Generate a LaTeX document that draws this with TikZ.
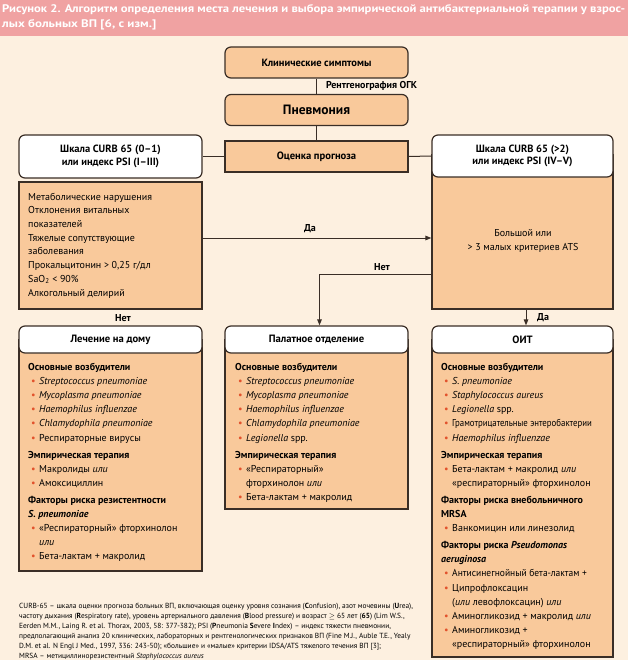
\documentclass[tikz,border=0pt]{standalone}
\usepackage{fontspec}
\setmainfont{PT Sans}
\usetikzlibrary{arrows.meta}
\definecolor{bg}{HTML}{FDF0E0}
\definecolor{band}{HTML}{F0A2A2}
\definecolor{orng}{HTML}{F9C99B}
\definecolor{bord}{HTML}{3A2E26}
\definecolor{bulc}{HTML}{E2522C}
\newcommand{\bul}{\hspace*{3pt}\makebox[8pt][l]{\textcolor{bulc}{\textbullet}}}
\newcommand{\cont}{\hspace*{11pt}}
\begin{document}
\begin{tikzpicture}[x=1pt,y=-1pt,
  obox/.style={draw=bord,line width=1.2pt,fill=orng,inner sep=0pt},
  rbox/.style={obox,rounded corners=6pt},
  wbox/.style={draw=bord,line width=1.2pt,fill=white,rounded corners=6pt,inner sep=0pt},
  conn/.style={draw=bord,line width=1pt},
  arr/.style={conn,-{Triangle[length=6pt,width=4.5pt]}},
  hfont/.style={font=\bfseries\fontsize{10.6}{12.5}\selectfont},
  lbl/.style={font=\bfseries\fontsize{10}{12}\selectfont,inner sep=0pt},
  body/.style={anchor=north west,inner sep=0pt,align=left,font=\fontsize{10}{14.1}\selectfont}
]
\useasboundingbox (0,0) rectangle (628,660);
\fill[bg] (0,0) rectangle (628,660);
\fill[band] (0,0) rectangle (628,36);
\node[anchor=base west,inner sep=0pt,text=white,font=\bfseries\fontsize{11}{14}\selectfont] (title1) at (2,13)
  {\resizebox{623pt}{\height}{Рисунок 2. Алгоритм определения места лечения и выбора эмпирической антибактериальной терапии у взрос-}};
\node[anchor=base west,inner sep=0pt,text=white,font=\bfseries\fontsize{11}{14}\selectfont] (title2) at (2,28)
  {\resizebox{154pt}{\height}{лых больных ВП [6, с изм.]}};

% top chain
\node[rbox,minimum width=183pt,minimum height=31pt,font=\bfseries\fontsize{10.5}{12}\selectfont] (klin) at (316.5,62.5) {Клинические симптомы};
\node[rbox,minimum width=183pt,minimum height=31pt,font=\bfseries\fontsize{13.5}{15}\selectfont] (pnev) at (316.5,110) {Пневмония};
\node[obox,minimum width=183pt,minimum height=31pt,hfont] (ocen) at (316.5,156.5) {Оценка прогноза};

% left column top
\node[wbox,minimum width=183pt,minimum height=43pt,align=center,font=\bfseries\fontsize{10.5}{12.5}\selectfont] (lw) at (110.5,156.5) {Шкала CURB 65 (0–1)\\или индекс PSI (I–III)};
\node[obox,minimum width=183pt,minimum height=127pt] (lo) at (110.5,245.5) {};
\node[body,font=\fontsize{10}{13.7}\selectfont] (lot) at (28,190.4) {\strut Метаболические нарушения\\Отклонения витальных\\показателей\\Тяжелые сопутствующие\\заболевания\\Прокальцитонин > 0,25 г/дл\\SaO\textsubscript{2} < 90\%\\Алкогольный делирий};

% right column top
\node[obox,minimum width=181pt,minimum height=154pt] (ro) at (522.5,232) {};
\node[inner sep=0pt,align=center,font=\fontsize{10}{14}\selectfont] (rot) at (523,241) {Большой или\\> 3 малых критериев ATS};
\node[wbox,minimum width=181pt,minimum height=42pt,align=center,font=\bfseries\fontsize{10.5}{12.5}\selectfont] (rw) at (522.5,156) {Шкала CURB 65 (>2)\\или индекс PSI (IV–V)};

% bottom boxes
\node[obox,minimum width=183pt,minimum height=231pt] (homeb) at (110.5,455.5) {};
\node[wbox,minimum width=183pt,minimum height=27pt,hfont] (homeh) at (110.5,339.5) {Лечение на дому};
\node[obox,minimum width=183pt,minimum height=169pt] (palb) at (316.5,424.5) {};
\node[wbox,minimum width=183pt,minimum height=27pt,hfont] (palh) at (316.5,339.5) {Палатное отделение};
\node[obox,minimum width=181pt,minimum height=317pt] (oitb) at (522.5,498.5) {};
\node[wbox,minimum width=181pt,minimum height=27pt,hfont] (oith) at (522.5,339.5) {ОИТ};

\node[body] (homet) at (28,360.5) {\strut\textbf{Основные возбудители}\\
\bul\textit{Streptococcus pneumoniae}\\
\bul\textit{Mycoplasma pneumoniae}\\
\bul\textit{Haemophilus influenzae}\\
\bul\textit{Chlamydophila pneumoniae}\\
\bul Респираторные вирусы\\[3pt]
\textbf{Эмпирическая терапия}\\
\bul Макролиды \textit{или}\\
\bul Амоксициллин\\[3pt]
\textbf{Факторы риска резистентности}\\
\textbf{\textit{S. pneumoniae}}\\
\bul «Респираторный» фторхинолон\\
\cont\textit{или}\\
\bul Бета-лактам + макролид};

\node[body] (palt) at (235,360.5) {\strut\textbf{Основные возбудители}\\
\bul\textit{Streptococcus pneumoniae}\\
\bul\textit{Mycoplasma pneumoniae}\\
\bul\textit{Haemophilus influenzae}\\
\bul\textit{Chlamydophila pneumoniae}\\
\bul\textit{Legionella} spp.\\[3pt]
\textbf{Эмпирическая терапия}\\
\bul «Респираторный»\\
\cont фторхинолон \textit{или}\\
\bul Бета-лактам + макролид};

\node[body] (oitt) at (441,360.5) {\strut\textbf{Основные возбудители}\\
\bul\textit{S. pneumoniae}\\
\bul\textit{Staphylococcus aureus}\\
\bul\textit{Legionella} spp.\\
\bul\scalebox{0.88}[1]{Грамотрицательные энтеробактерии}\\
\bul\textit{Haemophilus influenzae}\\[3pt]
\textbf{Эмпирическая терапия}\\
\bul Бета-лактам + макролид \textit{или}\\
\cont «респираторный» фторхинолон\\[3pt]
\textbf{Факторы риска внебольничного}\\
\textbf{MRSA}\\
\bul Ванкомицин или линезолид\\[3pt]
\textbf{Факторы риска \textit{Pseudomonas}}\\
\textbf{\textit{aeruginosa}}\\
\bul\scalebox{0.95}[1]{Антисинегнойный бета-лактам +}\\
\bul Ципрофлоксацин\\
\cont(\textit{или} левофлоксацин) \textit{или}\\
\bul Аминогликозид + макролид \textit{или}\\
\bul Аминогликозид +\\
\cont «респираторный» фторхинолон};

% connectors
\draw[conn] (klin.south) -- (pnev.north) node[pos=0.5,anchor=west,lbl,xshift=9pt] (rgk) {Рентгенография ОГК};
\draw[conn] (pnev.south) -- (ocen.north);
\draw[conn] (ocen.west) -- (lw.east);
\draw[conn] (ocen.east) -- (rw.west);
\coordinate (yda) at (0,238);
\coordinate (ynet) at (0,274);
\draw[arr] (lo.east |- yda) -- (ro.west |- yda);
\node[lbl] (da1) at (310,229) {Да};
\draw[arr] (ro.west |- ynet) -| ([xshift=3pt]palh.north);
\node[lbl] (net1) at (382,267) {Нет};
\draw[arr] ([xshift=3.5pt]ro.south) -- ([xshift=3.5pt]oith.north);
\node[lbl,anchor=west] (da2) at (537,318) {Да};
\node[lbl] (net2) at (123,318) {Нет};

% footnote
\node[body,font=\fontsize{7.4}{10}\selectfont] (foot) at (19,601.5) {\strut CURB-65 – шкала оценки прогноза больных ВП, включающая оценку уровня сознания (\textbf{C}onfusion), азот мочевины (\textbf{U}rea),\\
частоту дыхания (\textbf{R}espiratory rate), уровень артериального давления (\textbf{B}lood pressure) и возраст $\geq$ 65 лет (\textbf{65}) (Lim W.S.,\\
Eerden M.M., Laing R. et al. Thorax, 2003, 58: 377-382); PSI (\textbf{P}neumonia \textbf{S}evere \textbf{I}ndex) – индекс тяжести пневмонии,\\
предполагающий анализ 20 клинических, лабораторных и рентгенологических признаков ВП (Fine M.J., Auble T.E., Yealy\\
D.M. et al. N Engl J Med., 1997, 336: 243-50); «большие» и «малые» критерии IDSA/ATS тяжелого течения ВП [3];\\
MRSA – метициллинорезистентный \textit{Staphylococcus aureus}};
\end{tikzpicture}
\end{document}
